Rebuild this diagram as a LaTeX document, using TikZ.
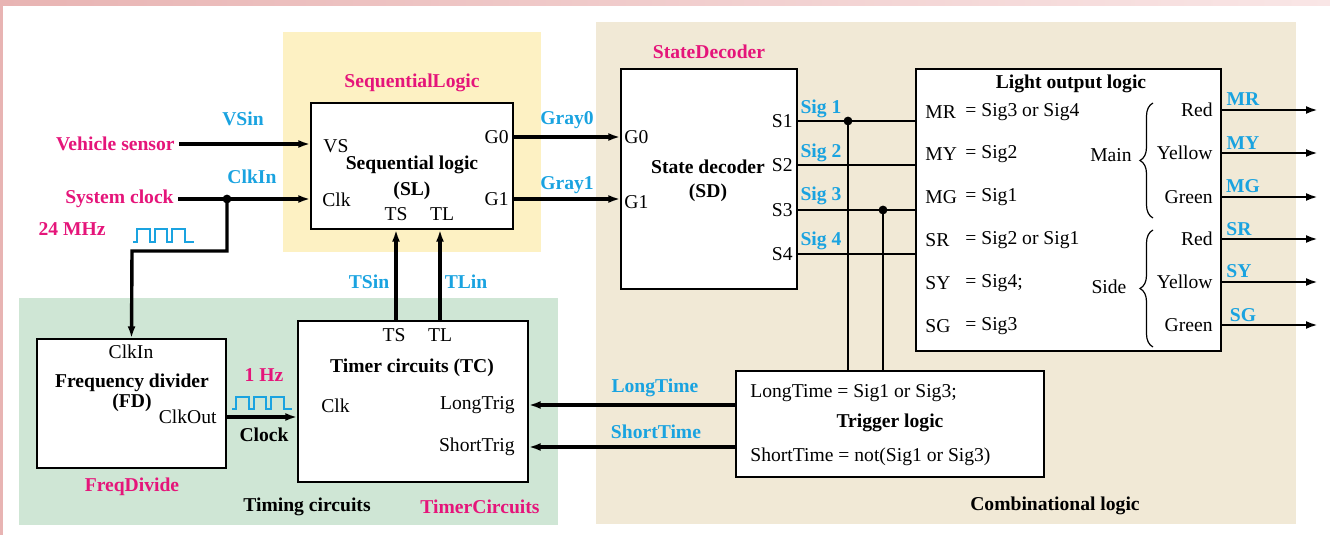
\documentclass[tikz,border=0pt]{standalone}
\usepackage{fontspec}
\setmainfont{Liberation Serif}
\usetikzlibrary{arrows.meta,decorations.pathreplacing}
\definecolor{tagpink}{HTML}{E5157A}
\definecolor{sigblue}{HTML}{1AA3E0}
\definecolor{seqbg}{HTML}{FDF1C3}
\definecolor{timbg}{HTML}{CFE6D5}
\definecolor{combbg}{HTML}{F1E9D6}
\definecolor{framel}{HTML}{E8B4B3}
\definecolor{framer}{HTML}{F9E6E6}

\begin{document}
\begin{tikzpicture}[x=0.5pt,y=-0.5pt, every node/.style={font=\fontsize{9.8}{11}\selectfont,inner sep=2pt}, blk/.style={draw,line width=0.7pt,fill=white}, tag/.style={font=\fontsize{9.8}{11}\selectfont\bfseries,text=tagpink}, sig/.style={font=\fontsize{9.8}{11}\selectfont\bfseries,text=sigblue}, ttl/.style={font=\fontsize{9.8}{11}\selectfont\bfseries}, arr/.style={-{Latex[length=6pt,width=4pt]},line width=1.7pt}, outarr/.style={-{Latex[length=6pt,width=4pt]},line width=1.2pt}, wire/.style={line width=0.6pt}, wave/.style={sigblue,line width=1pt}, brc/.style={decorate,decoration={brace,amplitude=6.5pt},line width=0.6pt}]
\useasboundingbox (0,0) rectangle (1330,535);
\shade[left color=framel,right color=framer] (0,0) rectangle (1330,6);
\fill[framel] (0,0) rectangle (3,535);
\fill[seqbg] (283,32) rectangle (541,252);
\fill[timbg] (19,298) rectangle (558,525);
\fill[combbg] (596,22) rectangle (1296,524);

\node[blk,minimum width=101pt,minimum height=63pt] (sl) at (412,166) {};
\node[blk,minimum width=88pt,minimum height=110pt] (sd) at (709,179) {};
\node[blk,minimum width=152.5pt,minimum height=141pt] (lol) at (1068.5,210) {};
\node[blk,minimum width=94.5pt,minimum height=64.5pt] (fd) at (131.5,403.5) {};
\node[blk,minimum width=115pt,minimum height=80.5pt] (tc) at (413,401.5) {};
\node[blk,minimum width=154pt,minimum height=53pt] (trg) at (890,424) {};

\node[tag] (seqtag) at (412,83) {SequentialLogic};
\node[anchor=west] (slvs) at (319,146) {VS};
\node[anchor=west] (slclk) at (318,200) {Clk};
\node[anchor=east] (slg0) at (513,137) {G0};
\node[anchor=east] (slg1) at (513,199) {G1};
\node[ttl] (sltitle) at (412,165) {Sequential logic};
\node[ttl] (slabbr) at (412,191) {(SL)};
\node (slts) at (396,214) {TS};
\node (sltl) at (442,214) {TL};

\node[tag,anchor=east] (vsen) at (179,144) {Vehicle sensor};
\node[tag,anchor=east] (sysclk) at (178,199) {System clock};
\node[tag] (mhz) at (72,229) {24 MHz};
\node[sig] (vsin) at (243,119) {VSin};
\node[sig] (clkin) at (252,177) {ClkIn};
\node[sig] (gray0) at (567,120) {Gray0};
\node[sig] (gray1) at (567,185) {Gray1};
\node[sig] (tsin) at (369,282) {TSin};
\node[sig] (tlin) at (466,282) {TLin};

\node (fdclkin) at (131,352) {ClkIn};
\node[ttl] (fdtitle) at (132,383) {Frequency divider};
\node[ttl] (fdabbr) at (132,403) {(FD)};
\node[anchor=east] (fdclkout) at (221,417) {ClkOut};
\node[tag] (freqtag) at (132,487) {FreqDivide};
\node[tag] (hz) at (264,375) {1 Hz};
\node[ttl] (clocklbl) at (264,435) {Clock};

\node (tcts) at (394,335) {TS};
\node (tctl) at (440,335) {TL};
\node[ttl] (tctitle) at (412,368) {Timer circuits (TC)};
\node[anchor=west] (tcclk) at (317,406) {Clk};
\node[anchor=east] (ltrig) at (519,405) {LongTrig};
\node[anchor=east] (strig) at (519,447) {ShortTrig};
\node[ttl] (timlbl) at (307,507) {Timing circuits};
\node[tag] (timtag) at (480,507) {TimerCircuits};

\node[tag] (sdtag) at (709,52) {StateDecoder};
\node[anchor=west] (sdg0) at (620,137) {G0};
\node[anchor=west] (sdg1) at (620,202) {G1};
\node[ttl] (sdtitle) at (708,167) {State decoder};
\node[ttl] (sdabbr) at (708,193) {(SD)};
\node[anchor=east] (s1) at (797,121) {S1};
\node[anchor=east] (s2) at (797,165) {S2};
\node[anchor=east] (s3) at (797,210) {S3};
\node[anchor=east] (s4) at (797,254) {S4};
\node[sig] (sig1) at (821,109) {Sig 1};
\node[sig] (sig2) at (821,153) {Sig 2};
\node[sig] (sig3) at (821,196) {Sig 3};
\node[sig] (sig4) at (821,241) {Sig 4};

\node[ttl] (loltitle) at (1071,84) {Light output logic};
\node[anchor=west] (mr) at (921,112) {MR};
\node[anchor=west] (my) at (921,154) {MY};
\node[anchor=west] (mg) at (921,197) {MG};
\node[anchor=west] (sr) at (921,240) {SR};
\node[anchor=west] (sy) at (921,283) {SY};
\node[anchor=west] (sg) at (921,326) {SG};
\node[anchor=west] (mreq) at (961,112) {= Sig3 or Sig4};
\node[anchor=west] (myeq) at (961,154) {= Sig2};
\node[anchor=west] (mgeq) at (961,197) {= Sig1};
\node[anchor=west] (sreq) at (961,240) {= Sig2 or Sig1};
\node[anchor=west] (syeq) at (961,283) {= Sig4;};
\node[anchor=west] (sgeq) at (961,326) {= Sig3};
\node (mainlbl) at (1111,155) {Main};
\node (sidelbl) at (1109,287) {Side};
\node[anchor=east] (lr1) at (1217,110) {Red};
\node[anchor=east] (ly1) at (1217,153) {Yellow};
\node[anchor=east] (lg1) at (1217,197) {Green};
\node[anchor=east] (lr2) at (1217,239) {Red};
\node[anchor=east] (ly2) at (1217,282) {Yellow};
\node[anchor=east] (lg2) at (1217,325) {Green};
\node[sig] (omr) at (1243,99) {MR};
\node[sig] (omy) at (1243,143) {MY};
\node[sig] (omg) at (1243,186) {MG};
\node[sig] (osr) at (1239,229) {SR};
\node[sig] (osy) at (1239,271) {SY};
\node[sig] (osg) at (1243,315) {SG};

\node[anchor=west] (lteq) at (746,393) {LongTime = Sig1 or Sig3;};
\node[ttl] (trgtitle) at (890,423) {Trigger logic};
\node[anchor=west] (steq) at (746,457) {ShortTime = not(Sig1 or Sig3)};
\node[sig] (ltime) at (655,388) {LongTime};
\node[sig] (stime) at (656,432) {ShortTime};
\node[ttl] (comblbl) at (1055,506) {Combinational logic};

\coordinate (j1) at (227,199);
\coordinate (bend) at (132,251);
\coordinate (j2) at (848,121);
\coordinate (j3) at (883,210);
\coordinate (oend) at (1318,0);

\draw[arr] (vsen.east) -- (vsen.east -| sl.west);
\draw[arr] (sysclk.east) -- (sysclk.east -| sl.west);
\draw[arr] (j1) |- (bend) -- (fd.north);
\fill (j1) circle (2.2pt);
\draw[arr] (slg0 -| sl.east) -- (slg0 -| sd.west);
\draw[arr] (slg1 -| sl.east) -- (slg1 -| sd.west);
\draw[arr] (slts |- tc.north) -- (slts |- sl.south);
\draw[arr] (tctl |- tc.north) -- (tctl |- sl.south);
\draw[arr] (fdclkout -| fd.east) -- (fdclkout -| tc.west);
\draw[arr] (ltrig -| trg.west) -- (ltrig -| tc.east);
\draw[arr] (strig -| trg.west) -- (strig -| tc.east);

\draw[wire] (s1 -| sd.east) -- (s1 -| lol.west);
\draw[wire] (s2 -| sd.east) -- (s2 -| lol.west);
\draw[wire] (s3 -| sd.east) -- (s3 -| lol.west);
\draw[wire] (s4 -| sd.east) -- (s4 -| lol.west);
\draw[wire] (j2) -- (j2 |- trg.north);
\draw[wire] (j3) -- (j3 |- trg.north);
\fill (j2) circle (2.2pt);
\fill (j3) circle (2.2pt);

\draw[outarr] (lr1 -| lol.east) -- (lr1 -| oend);
\draw[outarr] (ly1 -| lol.east) -- (ly1 -| oend);
\draw[outarr] (lg1 -| lol.east) -- (lg1 -| oend);
\draw[outarr] (lr2 -| lol.east) -- (lr2 -| oend);
\draw[outarr] (ly2 -| lol.east) -- (ly2 -| oend);
\draw[outarr] (lg2 -| lol.east) -- (lg2 -| oend);
\draw[brc] (1153,218) -- (1153,103);
\draw[brc] (1153,347) -- (1153,230);

\draw[wave] (133,242) -- ++(4,0) -- ++(0,-13) -- ++(13,0) -- ++(0,13) -- ++(5,0) -- ++(0,-13) -- ++(12,0) -- ++(0,13) -- ++(5,0) -- ++(0,-13) -- ++(13,0) -- ++(0,13) -- ++(9,0);
\draw[wave] (232,409) -- ++(4,0) -- ++(0,-12) -- ++(13,0) -- ++(0,12) -- ++(5,0) -- ++(0,-12) -- ++(12,0) -- ++(0,12) -- ++(5,0) -- ++(0,-12) -- ++(13,0) -- ++(0,12) -- ++(8,0);
\end{tikzpicture}
\end{document}
